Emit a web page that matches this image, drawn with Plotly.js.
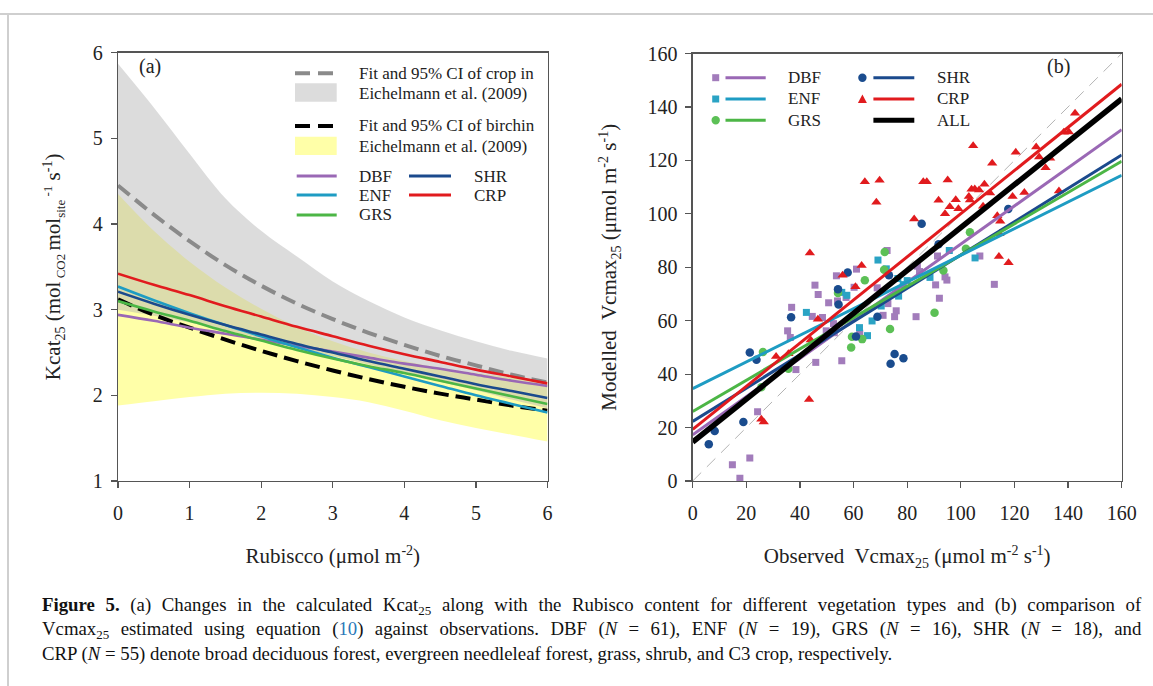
<!DOCTYPE html>
<html>
<head>
<meta charset="utf-8">
<script src="https://cdn.plot.ly/plotly-3.0.1.min.js"></script>
<style>
  html, body { margin:0; padding:0; background:#fff; }
  body { width:1153px; height:686px; overflow:hidden; position:relative; }
  #chart { position:absolute; left:0; top:0; width:1153px; height:686px; }
</style>
</head>
<body>
<div id="chart"></div>
<script>
// ---------- Panel (a): Kcat25 vs Rubisco ----------
const rubisco      = [0, 0.5, 1, 1.5, 2, 2.5, 3, 3.5, 4, 4.5, 5, 5.5, 6];
const cropFit      = [4.45, 4.11, 3.80, 3.52, 3.28, 3.07, 2.89, 2.73, 2.59, 2.46, 2.35, 2.24, 2.15];
const cropUpper    = [5.87, 5.36, 4.82, 4.30, 3.92, 3.62, 3.33, 3.10, 2.91, 2.76, 2.63, 2.52, 2.43];
const cropLower    = [3.00, 2.93, 2.85, 2.76, 2.66, 2.56, 2.46, 2.36, 2.26, 2.16, 2.06, 1.95, 1.85];
const birchFit     = [3.12, 2.94, 2.79, 2.65, 2.52, 2.40, 2.29, 2.19, 2.10, 2.02, 1.95, 1.88, 1.82];
const birchUpper   = [4.35, 3.92, 3.56, 3.26, 3.01, 2.80, 2.63, 2.50, 2.40, 2.32, 2.26, 2.21, 2.17];
const birchLower   = [1.88, 1.93, 1.98, 2.02, 2.03, 2.02, 1.98, 1.92, 1.82, 1.71, 1.62, 1.54, 1.46];
const kcatDBF      = [2.94, 2.87, 2.79, 2.72, 2.65, 2.58, 2.51, 2.44, 2.37, 2.31, 2.24, 2.17, 2.11];
const kcatENF      = [3.27, 3.11, 2.96, 2.82, 2.69, 2.56, 2.44, 2.33, 2.22, 2.11, 2.00, 1.90, 1.80];
const kcatGRS      = [3.10, 2.98, 2.87, 2.75, 2.64, 2.53, 2.43, 2.34, 2.26, 2.17, 2.08, 1.99, 1.90];
const kcatSHR      = [3.21, 3.07, 2.94, 2.82, 2.71, 2.60, 2.50, 2.40, 2.31, 2.22, 2.13, 2.05, 1.97];
const kcatCRP      = [3.42, 3.29, 3.17, 3.04, 2.92, 2.80, 2.69, 2.58, 2.48, 2.39, 2.30, 2.22, 2.14];
const kcatTicks    = [1, 2, 3, 4, 5, 6];
const rubiscoTicks = [0, 1, 2, 3, 4, 5, 6];

// ---------- Panel (b): modelled vs observed Vcmax25 ----------
const dbfObs = [14.8, 17.6, 21.3, 24.2, 35.4, 36.4, 36.9, 38.5, 44.6, 45.6, 45.9, 46.8, 48.4, 49.8, 50.7, 52.5, 52.8, 53.6, 54.0, 55.6, 57.2, 60.2, 61.1, 62.3, 68.8, 69.9, 71.0, 72.5, 72.8, 75.3, 75.9, 83.3, 83.8, 84.6, 90.6, 91.3, 92.0, 94.1, 94.8, 107.1, 112.5];
const dbfMod = [6.1, 1.0, 8.6, 25.9, 56.2, 53.7, 65.0, 41.7, 61.6, 73.3, 44.4, 69.8, 61.2, 56.2, 66.7, 58.9, 55.5, 76.8, 67.4, 45.0, 68.7, 72.5, 79.3, 55.3, 72.3, 70.9, 62.0, 86.3, 66.4, 61.5, 63.7, 61.5, 80.4, 78.4, 73.4, 84.2, 68.4, 76.4, 75.2, 84.2, 73.6];
const enfObs = [42.4, 55.6, 57.5, 62.2, 65.2, 66.9, 69.1, 70.3, 72.2, 76.5, 76.8, 78.5, 80.0, 88.5, 95.7, 105.3];
const enfMod = [63.1, 70.6, 69.5, 57.4, 54.4, 59.9, 82.7, 65.5, 79.4, 75.8, 69.2, 73.5, 75.0, 76.2, 86.3, 83.5];
const grsObs = [25.6, 26.2, 35.7, 54.2, 59.1, 59.4, 63.2, 64.2, 71.4, 71.6, 73.6, 90.2, 93.5, 101.9, 103.4];
const grsMod = [35.1, 48.3, 42.0, 70.4, 50.0, 54.0, 53.1, 75.1, 79.1, 85.7, 56.9, 63.0, 78.8, 86.9, 93.1];
const shrObs = [6.0, 8.2, 18.9, 21.3, 23.8, 36.7, 54.2, 54.4, 57.8, 60.9, 68.9, 73.2, 73.8, 75.3, 78.6, 85.4, 91.7, 117.7];
const shrMod = [13.8, 18.7, 22.1, 48.1, 45.4, 61.3, 71.8, 66.1, 78.0, 54.1, 61.5, 77.0, 43.9, 47.5, 45.9, 96.3, 88.6, 101.8];
const crpObs = [25.6, 26.5, 31.1, 35.7, 43.4, 43.7, 44.0, 46.7, 55.9, 60.7, 63.0, 64.2, 68.5, 69.7, 82.6, 86.0, 87.3, 91.7, 94.1, 95.1, 95.9, 98.1, 99.1, 103.0, 103.4, 104.0, 104.6, 105.2, 106.8, 108.3, 108.8, 110.9, 111.7, 113.6, 114.2, 114.7, 117.8, 119.3, 120.5, 123.7, 128.1, 129.2, 131.6, 133.3, 136.6, 138.4, 140.3, 142.6, 114.4];
const crpMod = [23.1, 22.1, 46.6, 47.6, 30.5, 85.3, 52.8, 60.5, 77.0, 72.7, 80.7, 112.0, 104.3, 112.6, 98.1, 112.0, 112.0, 105.1, 100.0, 112.7, 102.6, 105.3, 101.9, 106.5, 105.2, 109.2, 125.5, 109.3, 108.9, 102.8, 111.1, 107.8, 118.9, 99.3, 84.0, 97.2, 81.7, 106.5, 123.0, 108.0, 125.0, 121.3, 117.2, 120.8, 108.5, 130.5, 130.6, 137.6, 92.5];
// regression lines: values at the two ends of the observed axis
const fitEnds = [0, 160];
const fitDBF  = [17.3, 131.5];
const fitENF  = [34.6, 114.4];
const fitGRS  = [26.0, 119.7];
const fitSHR  = [22.3, 122.0];
const fitCRP  = [19.3, 148.5];
const fitALL  = [14.6, 143.0];
const oneToOne = [0, 160];
const vcTicks = [0, 20, 40, 60, 80, 100, 120, 140, 160];

// ---------- text helpers (sub/superscripts as sized spans) ----------
const sub  = (t, fs, sh) => `<span style="font-size:${fs || 14}px;baseline-shift:-${sh || 4.5}px">${t}</span>`;
const sup  = (t, fs, sh) => `<span style="font-size:${fs || 14}px;baseline-shift:${sh || 8}px">${t}</span>`;
const csub = t => sub(t, 13, 4);

const captionLines = [
  `<b>Figure 5.</b> (a) Changes in the calculated Kcat${csub('25')} along with the Rubisco content for different vegetation types and (b) comparison of`,
  `Vcmax${csub('25')} estimated using equation (<span style="color:#2a78b8">10</span>) against observations. DBF (<i>N</i> = 61), ENF (<i>N</i> = 19), GRS (<i>N</i> = 16), SHR (<i>N</i> = 18), and`,
  'CRP (<i>N</i> = 55) denote broad deciduous forest, evergreen needleleaf forest, grass, shrub, and C3 crop, respectively.'
];
const titleKcat   = `Kcat${sub('25')} (mol${sub(' CO2 ', 13)}mol${sub('site', 13)}${sup(' -1', 13)} s${sup('-1')})`;
const titleRub    = `Rubiscco (\u03bcmol m${sup('-2')})`;
const titleObs    = `Observed\u00a0 Vcmax${sub('25')} (\u03bcmol m${sup('-2')} s${sup('-1')})`;
const titleMod    = `Modelled\u00a0 Vcmax${sub('25')} (\u03bcmol m${sup('-2')} s${sup('-1')})`;

// ---------- styling ----------
const C = { DBF:'#9a68b5', ENF:'#1e9cc3', GRS:'#4cb646', SHR:'#1b4a8d', CRP:'#e11b1e' };
const MK = { DBF:'#a27cbb', ENF:'#2aa3c4', GRS:'#5cc056', SHR:'#1a4c8e', CRP:'#e11b1e' };
const W = 1153, H = 686;
const px = v => v / W, py = v => 1 - v / H;
const SERIF = 'Liberation Serif, Times New Roman, serif';

const traces = [];
traces.push({x: rubisco, y: birchLower, xaxis:'x', yaxis:'y', mode:'lines', line:{width:0, color:'rgba(0,0,0,0)', shape:'spline'}, hoverinfo:'skip'});
traces.push({x: rubisco, y: birchUpper, xaxis:'x', yaxis:'y', mode:'lines', line:{width:0, color:'rgba(0,0,0,0)', shape:'spline'}, fill:'tonexty', fillcolor:'#ffffa8', hoverinfo:'skip'});
traces.push({x: rubisco, y: cropLower, xaxis:'x', yaxis:'y', mode:'lines', line:{width:0, color:'rgba(0,0,0,0)', shape:'spline'}, hoverinfo:'skip'});
traces.push({x: rubisco, y: cropUpper, xaxis:'x', yaxis:'y', mode:'lines', line:{width:0, color:'rgba(0,0,0,0)', shape:'spline'}, fill:'tonexty', fillcolor:'rgba(178,178,178,0.45)', hoverinfo:'skip'});
traces.push({x: rubisco, y: cropFit, xaxis:'x', yaxis:'y', mode:'lines', line:{width:4, color:'#8a8a8a', dash:'15px,7px', shape:'spline'}});
traces.push({x: rubisco, y: birchFit, xaxis:'x', yaxis:'y', mode:'lines', line:{width:4, color:'#000', dash:'15px,7px', shape:'spline'}});
[['DBF',kcatDBF],['ENF',kcatENF],['GRS',kcatGRS],['SHR',kcatSHR],['CRP',kcatCRP]].forEach(([k,v]) => {
  traces.push({x: rubisco, y: v, xaxis:'x', yaxis:'y', mode:'lines', line:{width:2.6, color:C[k], shape:'spline'}});
});

traces.push({x: oneToOne, y: oneToOne, xaxis:'x2', yaxis:'y2', mode:'lines', line:{width:1, color:'#b4b4b4', dash:'12px,8px'}});
const pts = [
  ['DBF', dbfObs, dbfMod, 'square', 7],
  ['ENF', enfObs, enfMod, 'square', 7],
  ['GRS', grsObs, grsMod, 'circle', 8.5],
  ['SHR', shrObs, shrMod, 'circle', 8.5],
  ['CRP', crpObs, crpMod, 'triangle-up', 9]
];
pts.forEach(([k, xs, ys, sym, sz]) => {
  traces.push({x: xs, y: ys, xaxis:'x2', yaxis:'y2', mode:'markers', marker:{symbol:sym, size:sz, color:MK[k], line:{width:0}}});
});
[['DBF',fitDBF],['SHR',fitSHR],['GRS',fitGRS],['ENF',fitENF],['CRP',fitCRP]].forEach(([k,v]) => {
  traces.push({x: fitEnds, y: v, xaxis:'x2', yaxis:'y2', mode:'lines', line:{width:3, color:C[k]}});
});
traces.push({x: fitEnds, y: fitALL, xaxis:'x2', yaxis:'y2', mode:'lines', line:{width:5.5, color:'#000'}});

const tf = {family:SERIF, size:21, color:'#222'};
const axBase = {
  showgrid:false, zeroline:false, showline:true, linecolor:'#555', linewidth:1.3, mirror:true,
  ticks:'outside', ticklen:6, tickwidth:1.2, tickcolor:'#555',
  tickfont:{family:SERIF, size:20, color:'#222'}, fixedrange:true
};

const shapes = [];
const annotations = [];
shapes.push({type:'line', xref:'paper', yref:'paper', x0:0, x1:1, y0:py(14), y1:py(14), line:{color:'#cfcfcf', width:2}});
shapes.push({type:'line', xref:'paper', yref:'paper', x0:px(8), x1:px(8), y0:py(14), y1:0, line:{color:'#cfcfcf', width:2}});

function hline(x0, x1, y, color, width, dash) {
  shapes.push({type:'line', xref:'paper', yref:'paper', x0:px(x0), x1:px(x1), y0:py(y), y1:py(y), line:{color, width, dash: dash || 'solid'}});
}
function rect(x0, x1, y0, y1, color) {
  shapes.push({type:'rect', xref:'paper', yref:'paper', x0:px(x0), x1:px(x1), y0:py(y0), y1:py(y1), fillcolor:color, line:{width:0}});
}
function label(x, y, text, size, anchor, color) {
  annotations.push({xref:'paper', yref:'paper', x:px(x), y:py(y), text, showarrow:false, xanchor:anchor || 'left', yanchor:'middle',
    font:{family:SERIF, size:size || 17, color:color || '#222'}});
}

hline(295, 336, 73.3, '#8a8a8a', 4, '15px,8px');
label(357, 73.3, 'Fit and 95% CI of crop in');
rect(295, 336.7, 83.3, 101.7, '#dcdcdc');
label(357, 94, 'Eichelmann et al. (2009)');
hline(295, 336, 126, '#000', 4, '15px,8px');
label(357, 126, 'Fit and 95% CI of birchin');
rect(295, 336.7, 136.7, 155, '#ffffa8');
label(357, 146.5, 'Eichelmann et al. (2009)');
hline(296.7, 336.7, 176, C.DBF, 3); label(357, 176, 'DBF');
hline(296.7, 336.7, 195, C.ENF, 3); label(357, 195, 'ENF');
hline(296.7, 336.7, 215, C.GRS, 3); label(357, 215, 'GRS');
hline(409, 451, 176, C.SHR, 3); label(472, 176, 'SHR');
hline(409, 451, 195, C.CRP, 3); label(472, 195, 'CRP');
label(137, 67, '(a)', 20);

function sq(cx, cy, color) { rect(cx - 3.5, cx + 3.5, cy - 3.5, cy + 3.5, color); }
function circ(cx, cy, color) {
  shapes.push({type:'circle', xref:'paper', yref:'paper', x0:px(cx-4.2), x1:px(cx+4.2), y0:py(cy-4.2), y1:py(cy+4.2), fillcolor:color, line:{width:0}});
}
function tri(cx, cy, color) {
  shapes.push({type:'path', xref:'paper', yref:'paper',
    path:`M ${px(cx-4.5)} ${py(cy+4)} L ${px(cx+4.5)} ${py(cy+4)} L ${px(cx)} ${py(cy-4.5)} Z`, fillcolor:color, line:{width:0}});
}
sq(715.7, 77.7, MK.DBF);   hline(725.5, 765.7, 77.7, C.DBF, 3);  label(785.8, 77.7, 'DBF');
sq(715.7, 99, MK.ENF);     hline(725.5, 765.7, 99, C.ENF, 3);    label(785.8, 99, 'ENF');
circ(715.7, 120.3, MK.GRS); hline(725.5, 765.7, 120.3, C.GRS, 3); label(785.8, 120.3, 'GRS');
circ(862.4, 77.7, MK.SHR); hline(873.4, 914.3, 77.7, C.SHR, 3);  label(935.4, 77.7, 'SHR');
tri(862.4, 99, MK.CRP);    hline(873.4, 914.3, 99, C.CRP, 3);    label(935.4, 99, 'CRP');
hline(873.4, 914.3, 120.3, '#000', 5);                            label(935.4, 120.3, 'ALL');
label(1045, 67, '(b)', 20);

const capY = [606, 630, 654];
captionLines.forEach((t, i) => label(40, capY[i], t, 18.8, 'left', '#111'));

const layout = {
  width: W, height: H, margin:{l:0, r:0, t:0, b:0}, showlegend:false,
  paper_bgcolor:'#fff', plot_bgcolor:'rgba(0,0,0,0)',
  xaxis: Object.assign({}, axBase, {domain:[px(118), px(547.5)], range:[0,6], tickvals:rubiscoTicks, anchor:'y', ticklabelstandoff:8,
    title:{text:titleRub, font:tf, standoff:25}}),
  yaxis: Object.assign({}, axBase, {domain:[py(481), py(52.7)], range:[1,6], tickvals:kcatTicks, anchor:'x', ticklabelstandoff:4,
    title:{text:titleKcat, font:tf, standoff:26}}),
  xaxis2: Object.assign({}, axBase, {domain:[px(692.7), px(1121.7)], range:[0,160], tickvals:vcTicks, anchor:'y2', ticklabelstandoff:8,
    title:{text:titleObs, font:tf, standoff:25}}),
  yaxis2: Object.assign({}, axBase, {domain:[py(481), py(53.5)], range:[0,160], tickvals:vcTicks, anchor:'x2', ticklabelstandoff:4,
    title:{text:titleMod, font:tf, standoff:25}}),
  shapes, annotations
};

// justify the first two caption lines to the full text width (40 -> 1140 px)
function justifyCaption() {
  const texts = Array.from(document.querySelectorAll('#chart .annotation-text'));
  [0, 1].forEach(i => {
    const el = texts.find(t => t.getAttribute('data-unformatted') === captionLines[i]);
    if (!el) return;
    const b0 = el.getBBox();
    const spaces = (el.textContent.match(/ /g) || []).length;
    if (!spaces) return;
    const extra = (1100 - b0.width) / spaces;
    if (extra <= 0) return;
    el.style.wordSpacing = extra.toFixed(3) + 'px';
    const b1 = el.getBBox();
    el.setAttribute('transform', 'translate(' + (b0.x - b1.x).toFixed(2) + ',0)');
  });
}

Plotly.newPlot('chart', traces, layout, {staticPlot:true, displayModeBar:false}).then(justifyCaption);
</script>
</body>
</html>
